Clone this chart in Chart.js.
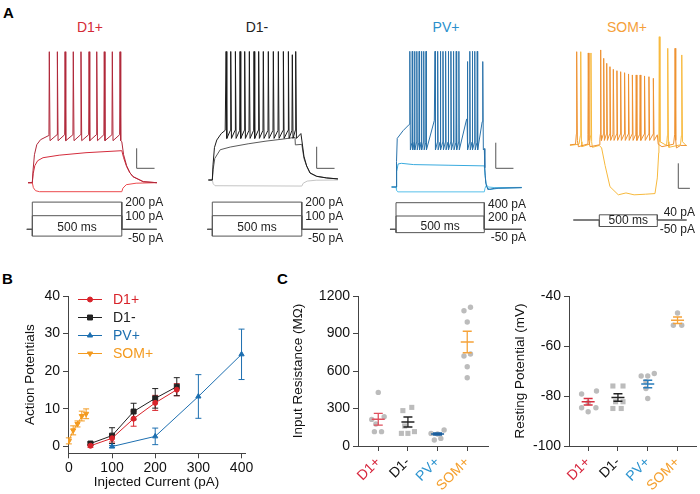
<!DOCTYPE html>
<html>
<head>
<meta charset="utf-8">
<script src="https://cdn.jsdelivr.net/npm/chart.js@4.4.1/dist/chart.umd.min.js"></script>
<style>
  body { margin: 0; background: #fff; }
  #fig { position: relative; width: 700px; height: 494px; overflow: hidden;
         font-family: "Liberation Sans", Arial, Helvetica, sans-serif; }
  #fig canvas { position: absolute; }
  .panel { position: absolute; font-weight: bold; font-size: 15px; line-height: 15px; color: #000; }
  .cell { position: absolute; font-size: 14px; line-height: 14px; transform: translateX(-50%); }
</style>
</head>
<body>
<div id="fig">
  <div class="panel" style="left:3px;top:5px">A</div>
  <div class="panel" style="left:2px;top:271px">B</div>
  <div class="panel" style="left:277px;top:271px">C</div>

  <div class="cell" style="left:90px;top:20px;color:#d42a36">D1+</div>
  <div class="cell" style="left:257px;top:20px;color:#222">D1-</div>
  <div class="cell" style="left:446px;top:20px;color:#2a8fcc">PV+</div>
  <div class="cell" style="left:627px;top:20px;color:#f5a03a">SOM+</div>

  <canvas id="trD1p" width="150" height="210" style="left:20px;top:35px"></canvas>
  <canvas id="trD1m" width="150" height="210" style="left:200px;top:35px"></canvas>
  <canvas id="trPV" width="155" height="210" style="left:380px;top:35px"></canvas>
  <canvas id="trSOM" width="140" height="210" style="left:560px;top:35px"></canvas>

  <canvas id="chartB" width="262" height="214" style="left:0px;top:280px"></canvas>
  <canvas id="chartRin" width="215" height="214" style="left:280px;top:280px"></canvas>
  <canvas id="chartVm" width="200" height="214" style="left:500px;top:280px"></canvas>
</div>

<script>
// ===========================
// Data : panel A traces (time ms, voltage mV)
// ===========================

// D1+ cell
const d1pHyper = [[-24,-80],[0,-80],[6,-85],[18,-88],[40,-89],[500,-89],[506,-85.5],[525,-82],[580,-80.5],[696,-80]];
const d1pSub = [[-24,-80],[0,-80],[5,-71],[14,-63],[30,-58],[60,-55],[150,-52.5],[300,-50],[500,-48],
  [510,-55],[527,-64],[545,-70],[563,-74],[620,-79],[696,-80]];
const d1pSupraBase = [[-24,-80],[0,-80],[4,-68],[12,-52],[25,-42],[46,-37],[90,-33],
  [500,-39],[510,-52],[527,-63],[545,-70],[563,-74],[620,-79],[696,-80]];
const d1pSpikes = [[95,51],[140,51],[183,51],[229,51],[272,51],[317,51],[360,51],[402,51],[447,51],[490,51]];
const d1pSteps = [200, 100, -50];

// D1- cell
const d1mHyper = [[-22,-80],[0,-80],[5,-83.5],[15,-85.3],[500,-85.6],[508,-83],[530,-81],[580,-80.2],[702,-80]];
const d1mSub = [[-22,-80],[0,-80],[5,-70],[14,-60],[44,-52],[100,-49.5],[200,-46.5],[300,-44],[400,-42],
  [462,-40.5],[464,-47.5],[500,-47],[512,-60],[527,-67],[546,-73.5],[583,-76.6],[639,-78.1],[702,-79]];
const d1mSupraBase = [[-22,-80],[0,-80],[4,-66],[12,-50],[25,-43],[50,-37],[72,-34],
  [495,-37],[500,-43],[512,-58],[527,-67],[546,-73.5],[583,-76.6],[639,-78.1],[702,-79]];
const d1mSpikes = [[77,39],[103,39],[129,39],[155,39],[181,39],[207,39],[233,39],[259,39],[285,39],
  [313,39],[341,39],[369,39],[397,39],[425,39],[447,36],[466,39]];
const d1mSteps = [200, 100, -50];

// PV+ cell
const pvHyper = [[-25,-75],[0,-75],[3,-77.5],[10,-78.8],[500,-78.8],[504,-76],[512,-73.5],[525,-75],[560,-75.5],[712,-75.3]];
const pvSub = [[-25,-75],[0,-75],[4,-63],[12,-57],[30,-56.5],[100,-57.5],[300,-58],[500,-58.5],
  [504,-66],[514,-75],[532,-77],[580,-76],[712,-75.5]];
const pvSupraBase = [[-25,-75],[0,-75],[3,-55],[7,-37],[40,-31],[76,-26],[217,-23],[400,-22],[488,-24],
  [500,-45],[503,-60],[508,-72],[520,-77],[560,-76],[712,-75.5]];
const pvSpikes = [[79,31],[92,31],[105,31],[118,31],[131,31],[144,31],[157,31],[170,31],
  [221,31],[236,31],[251,31],[266,31],[281,31],[296,31],[311,31],[326,31],[341,31],[356,31],
  [404,23],[418,31],[432,31],[446,31],[460,31],[492,23]];
const pvSteps = [400, 200, -50];

// SOM+ cell
const somHyperBase = [[-253,-54],[-175,-53],[-150,-55],[-85,-53],[-60,-55.5],[0,-54],[20,-56],[50,-70],[92,-87],
  [164,-93.5],[230,-92],[300,-93.5],[400,-93],[480,-92.5],[500,-80],[512,-60],[580,-54],[600,-55.5],[700,-53.5],[753,-54.5]];
const somHyperSpikes = [[-160,21],[-72,20],[517,33],[590,23.7],[711,18.4]];
const somDepBase = [[-253,-53.5],[-205,-53],[-180,-55],[-105,-53],[-80,-55],[0,-53.5],[5,-49],[15,-46],
  [500,-45.5],[508,-53],[540,-55],[640,-53],[665,-56],[700,-54],[753,-54]];
const somDepSpikes = [[-195,21],[-95,20],[12,22.4],[38,15.7],[64,11.7],[92,9],[121,6.9],[152,5.8],[184,5],
  [218,4.2],[252,3.2],[285,2.4],[318,2.4],[352,2.4],[390,1.6],[428,1],[466,-0.3],[653,23.7]];
const somSteps = [40, -50];

// ===========================
// Data : panel B (action potentials)
// ===========================

const bCurrentD1 = [50, 100, 150, 200, 250];
const bCurrentPV = [100, 200, 300, 400];
const bCurrentSOM = [0, 10, 20, 30, 40];
const bD1pMean = [0.2, 2.2, 7.4, 11.6, 15.1];
const bD1pSem = [0.4, 1.0, 2.0, 2.0, 1.6];
const bD1mMean = [0.8, 2.9, 9.3, 12.8, 15.9];
const bD1mSem = [0.4, 2.1, 2.2, 2.6, 2.4];
const bPVMean = [0, 2.7, 13.3, 24.5];
const bPVSem = [0.3, 2.2, 5.8, 6.7];
const bSOMMean = [1.5, 4.3, 6.0, 8.1, 8.7];
const bSOMSem = [0.8, 1.2, 0.8, 1.3, 1.3];
const bTicksX = [0, 100, 200, 300, 400];
const bTicksY = [0, 10, 20, 30, 40];

// ===========================
// Data : panel C (passive properties)
// ===========================

const cGroups = ["D1+", "D1-", "PV+", "SOM+"];

const rinValues = [
  [429, 213, 235, 176, 115, 115],
  [283, 309, 160, 101, 101, 115],
  [101, 128, 48, 61, 96],
  [1082, 1110, 992, 720, 736, 634, 546],
];
const rinJitter = [
  [0, -0.22, 0.2, -0.08, -0.13, 0.11],
  [-0.17, 0.13, -0.11, -0.22, 0, 0.22],
  [-0.22, 0.22, -0.11, 0.11, 0],
  [-0.11, 0.11, 0, -0.11, 0.11, 0, 0],
];
const rinMean = [214, 192, 96, 832];
const rinSem = [47, 40, 8, 86];
const rinTicks = [0, 300, 600, 900, 1200];

const vmValues = [
  [-79.2, -78, -82.7, -84.7, -86.3, -84.7],
  [-76, -76, -82.3, -82.3, -85, -85],
  [-72, -72, -71, -74.3, -77, -81],
  [-46.8, -51.7, -51.7],
];
const vmJitter = [
  [-0.22, 0.28, 0, -0.22, 0, 0.26],
  [-0.17, 0.17, -0.08, 0.17, -0.17, 0.11],
  [-0.22, 0, 0.22, -0.06, -0.06, 0],
  [0, -0.14, 0.14],
];
const vmMean = [-82.3, -80.6, -75.2, -49.7];
const vmSem = [1.3, 1.5, 1.5, 1.3];
const vmTicks = [-100, -80, -60, -40];

// ===========================
// Shared style
// ===========================

const FONT = '"Liberation Sans", Arial, Helvetica, sans-serif';
Chart.defaults.font.family = FONT;
Chart.defaults.color = "#111";
Chart.defaults.animation = false;
Chart.defaults.responsive = false;
Chart.defaults.devicePixelRatio = 1;

const groupColors = ["#d7263d", "#111111", "#2b93cf", "#f5a02e"];
const axisColor = "#444";

// ===========================
// Panel A helpers
// ===========================

const toXY = (arr) => arr.map((p) => ({ x: p[0], y: p[1] }));

// put spikes (time, peak) on top of the subthreshold points
function withSpikes(base, spikes, shape) {
  const pts = toXY(base);
  spikes.forEach(([t, peak]) => {
    let prev = null;
    for (const p of pts) {
      if (p.x < t && (!prev || p.x > prev.x)) prev = p;
    }
    const thr = Math.max(shape.thr, prev ? prev.y : shape.thr);
    pts.push({ x: t - shape.rise, y: thr }, { x: t, y: peak }, { x: t + shape.fall, y: shape.ahp });
  });
  return pts.sort((a, b) => a.x - b.x);
}

function stepTrace(level, span) {
  return [
    { x: span[0], y: 0 }, { x: 0, y: 0 }, { x: 0, y: level },
    { x: 500, y: level }, { x: 500, y: 0 }, { x: span[1], y: 0 },
  ];
}

const traceExtras = {
  id: "traceExtras",
  afterDatasetsDraw(chart, args, opts) {
    const { ctx } = chart;
    const { x, y, yI } = chart.scales;
    ctx.save();

    // scale bar
    const sb = opts.scaleBar;
    ctx.strokeStyle = "#555";
    ctx.lineWidth = 1;
    ctx.beginPath();
    ctx.moveTo(x.getPixelForValue(sb.t), y.getPixelForValue(sb.v + 20));
    ctx.lineTo(x.getPixelForValue(sb.t), y.getPixelForValue(sb.v));
    ctx.lineTo(x.getPixelForValue(sb.t + 100), y.getPixelForValue(sb.v));
    ctx.stroke();

    // step labels
    ctx.fillStyle = "#222";
    ctx.font = "12px " + FONT;
    ctx.textBaseline = "middle";
    ctx.textAlign = "right";
    const xr = x.getPixelForValue(500) + opts.labelRight;
    opts.steps.forEach((I) => {
      const dy = I > 0 ? opts.labelDy[0] : opts.labelDy[1];
      ctx.fillText(I + " pA", xr, yI.getPixelForValue(I) + dy);
    });

    const lows = opts.steps.slice().sort((a, b) => a - b);
    const yText = (yI.getPixelForValue(lows[0]) + yI.getPixelForValue(lows[1])) / 2 + opts.msDy;
    ctx.textAlign = "center";
    ctx.fillText("500 ms", x.getPixelForValue(250), yText);
    ctx.restore();
  },
};

function tracePanel(id, p, traces, steps, span, extras) {
  const canvas = document.getElementById(id);
  const top = 35;
  const height = canvas.height;
  const width = canvas.width;

  const datasets = traces.map((tr) => ({
    data: tr.points,
    borderColor: tr.color,
    borderWidth: 1,
    showLine: true,
    pointRadius: 0,
    tension: 0,
    yAxisID: "y",
  }));
  steps.forEach((I) => {
    datasets.push({
      data: stepTrace(I, span),
      borderColor: "#555",
      borderWidth: 1,
      showLine: true,
      pointRadius: 0,
      yAxisID: "yI",
    });
  });

  new Chart(canvas, {
    type: "scatter",
    data: { datasets },
    plugins: [traceExtras],
    options: {
      layout: { padding: 0 },
      plugins: {
        legend: { display: false },
        tooltip: { enabled: false },
        traceExtras: Object.assign({ steps }, extras),
      },
      scales: {
        x: {
          type: "linear", display: false,
          min: (p.left - p.x0) / p.kx,
          max: (p.left + width - p.x0) / p.kx,
        },
        y: {
          display: false,
          min: p.vRest - (top + height - p.yRest) / p.kv,
          max: p.vRest + (p.yRest - top) / p.kv,
        },
        yI: {
          display: false,
          min: -(top + height - p.yBase) / p.kI,
          max: (p.yBase - top) / p.kI,
        },
      },
    },
  });
}

// ===========================
// Panel A charts
// ===========================

tracePanel("trD1p",
  { left: 20, x0: 32.3, kx: 0.179, yRest: 182.7, vRest: -80, kv: 1.0, yBase: 229.3, kI: 0.136 },
  [
    { points: withSpikes(d1pSupraBase, d1pSpikes, { thr: -32, ahp: -38, rise: 2, fall: 4 }), color: "#b0283a" },
    { points: toXY(d1pSub), color: "#d42c3c" },
    { points: toXY(d1pHyper), color: "#ec4a4e" },
  ],
  d1pSteps, [-31, 695],
  { scaleBar: { t: 583, v: -65.6 }, labelRight: 41.5, labelDy: [1, 2.5], msDy: 1.5 });

tracePanel("trD1m",
  { left: 200, x0: 212.3, kx: 0.179, yRest: 180, vRest: -80, kv: 1.08, yBase: 229.3, kI: 0.136 },
  [
    { points: withSpikes(d1mSupraBase, d1mSpikes, { thr: -34, ahp: -41.5, rise: 2, fall: 4 }), color: "#1a1a1a" },
    { points: toXY(d1mSub), color: "#5a5a5a" },
    { points: toXY(d1mHyper), color: "#c4c4c4" },
  ],
  d1mSteps, [-28, 702],
  { scaleBar: { t: 583, v: -69.2 }, labelRight: 41.5, labelDy: [1, 2.5], msDy: 1.5 });

tracePanel("trPV",
  { left: 380, x0: 396, kx: 0.1766, yRest: 187, vRest: -75, kv: 1.28, yBase: 229.3, kI: 0.0665 },
  [
    { points: withSpikes(pvSupraBase, pvSpikes, { thr: -40, ahp: -46, rise: 1.5, fall: 2.5 }), color: "#2a72aa" },
    { points: toXY(pvSub), color: "#38aade" },
    { points: toXY(pvHyper), color: "#58c0ea" },
  ],
  pvSteps, [-34, 712],
  { scaleBar: { t: 565, v: -60.4 }, labelRight: 41.7, labelDy: [1.5, 5.5], msDy: 2.5 });

tracePanel("trSOM",
  { left: 560, x0: 599.3, kx: 0.116, yRest: 146.7, vRest: -55, kv: 1.25, yBase: 220, kI: 0.13 },
  [
    { points: withSpikes(somDepBase, somDepSpikes, { thr: -45, ahp: -50, rise: 3, fall: 6 }), color: "#ee9130" },
    { points: withSpikes(somHyperBase, somHyperSpikes, { thr: -46, ahp: -51, rise: 3, fall: 6 }), color: "#f7b93d" },
  ],
  somSteps, [-224, 753],
  { scaleBar: { t: 681, v: -88.3 }, labelRight: 37.7, labelDy: [-2, 3.5], msDy: 0.5 });

// ===========================
// Panel B
// ===========================

const errorBars = {
  id: "errorBars",
  beforeDatasetsDraw(chart) {
    const { ctx } = chart;
    const { x, y } = chart.scales;
    ctx.save();
    chart.data.datasets.forEach((ds) => {
      ctx.strokeStyle = ds.borderColor;
      ctx.lineWidth = 1;
      ds.data.forEach((pt, i) => {
        const px = x.getPixelForValue(pt.x);
        const yHi = y.getPixelForValue(pt.y + ds.sem[i]);
        const yLo = y.getPixelForValue(pt.y - ds.sem[i]);
        ctx.beginPath();
        ctx.moveTo(px, yHi); ctx.lineTo(px, yLo);
        ctx.moveTo(px - 3, yHi); ctx.lineTo(px + 3, yHi);
        ctx.moveTo(px - 3, yLo); ctx.lineTo(px + 3, yLo);
        ctx.stroke();
      });
    });
    ctx.restore();
  },
};

const rowLegend = {
  id: "rowLegend",
  afterDraw(chart) {
    const { ctx } = chart;
    ctx.save();
    ctx.font = "14px " + FONT;
    ctx.textBaseline = "middle";
    chart.data.datasets.forEach((ds, i) => {
      const yy = 19.5 + i * 18;
      ctx.strokeStyle = ds.borderColor;
      ctx.lineWidth = 1;
      ctx.beginPath();
      ctx.moveTo(78, yy); ctx.lineTo(102, yy);
      ctx.stroke();
      ctx.fillStyle = ds.borderColor;
      Chart.helpers.drawPoint(ctx, {
        pointStyle: ds.pointStyle, radius: ds.pointRadius,
        rotation: ds.pointRotation || 0, borderWidth: 1,
      }, 90, yy);
      ctx.fillText(ds.label, 113, yy + 0.5);
    });
    ctx.restore();
  },
};

function bSeries(label, xs, ys, sem, color, style, radius, rotation) {
  return {
    label,
    data: xs.map((v, i) => ({ x: v, y: ys[i] })),
    sem,
    showLine: true,
    borderColor: color,
    backgroundColor: color,
    borderWidth: 1,
    pointStyle: style,
    pointRadius: radius,
    pointRotation: rotation,
    pointBorderWidth: 1,
  };
}

const bColors = ["#d8232a", "#222222", "#1d6fb0", "#f39a1f"];

new Chart(document.getElementById("chartB"), {
  type: "scatter",
  data: {
    datasets: [
      bSeries("D1+", bCurrentD1, bD1pMean, bD1pSem, bColors[0], "circle", 2.5, 0),
      bSeries("D1-", bCurrentD1, bD1mMean, bD1mSem, bColors[1], "rect", 3.5, 0),
      bSeries("PV+", bCurrentPV, bPVMean, bPVSem, bColors[2], "triangle", 3, 0),
      bSeries("SOM+", bCurrentSOM, bSOMMean, bSOMSem, bColors[3], "triangle", 3, 180),
    ],
  },
  plugins: [errorBars, rowLegend],
  options: {
    layout: { padding: { top: 16, right: 17, left: 0, bottom: 0 } },
    plugins: { legend: { display: false }, tooltip: { enabled: false } },
    scales: {
      x: {
        type: "linear", min: -2, max: 408,
        afterBuildTicks: (s) => { s.ticks = bTicksX.map((v) => ({ value: v })); },
        afterFit: (s) => { s.height = 40.7; },
        ticks: { font: { size: 14 }, padding: 1, color: "#111" },
        grid: { drawOnChartArea: false, tickLength: 5, color: axisColor },
        border: { color: axisColor },
        title: { display: true, text: "Injected Current (pA)", font: { size: 13.5 }, padding: { bottom: 3.6 } },
      },
      y: {
        min: -1.8, max: 40,
        afterBuildTicks: (s) => { s.ticks = bTicksY.map((v) => ({ value: v })); },
        afterFit: (s) => { s.width = 68; },
        ticks: { font: { size: 14 }, padding: 3, color: "#111" },
        grid: { drawOnChartArea: false, tickLength: 5, color: axisColor },
        border: { color: axisColor },
        title: { display: true, text: "Action Potentials", font: { size: 13.5 }, padding: { top: 22 } },
      },
    },
  },
});

// ===========================
// Panel C
// ===========================

const meanSem = {
  id: "meanSem",
  afterDatasetsDraw(chart, args, opts) {
    const { ctx } = chart;
    const { x, y } = chart.scales;
    ctx.save();
    ctx.lineWidth = 1.3;
    opts.means.forEach((m, g) => {
      const px = x.getPixelForValue(g + 1);
      const yM = y.getPixelForValue(m);
      const yHi = y.getPixelForValue(m + opts.sems[g]);
      const yLo = y.getPixelForValue(m - opts.sems[g]);
      ctx.strokeStyle = opts.colors[g];
      ctx.beginPath();
      ctx.moveTo(px - 6.5, yM); ctx.lineTo(px + 6.5, yM);
      ctx.moveTo(px, yHi); ctx.lineTo(px, yLo);
      ctx.moveTo(px - 4.5, yHi); ctx.lineTo(px + 4.5, yHi);
      ctx.moveTo(px - 4.5, yLo); ctx.lineTo(px + 4.5, yLo);
      ctx.stroke();
    });
    ctx.restore();
  },
};

function cPanel(id, cfg) {
  const datasets = cfg.values.map((vals, g) => ({
    data: vals.map((v, i) => ({ x: g + 1 + cfg.jitter[g][i], y: v })),
    pointStyle: cfg.markers[g],
    pointRadius: cfg.markers[g] === "rect" ? 3.6 : 2.7,
    backgroundColor: "#bcbcbc",
    borderColor: "#bcbcbc",
    borderWidth: 0,
  }));

  new Chart(document.getElementById(id), {
    type: "scatter",
    data: { datasets },
    plugins: [meanSem],
    options: {
      layout: { padding: { top: 16, right: cfg.padRight, left: 0, bottom: 0 } },
      plugins: {
        legend: { display: false },
        tooltip: { enabled: false },
        meanSem: { means: cfg.means, sems: cfg.sems, colors: cfg.meanColors },
      },
      scales: {
        x: {
          type: "linear", min: cfg.xMin, max: cfg.xMax,
          afterBuildTicks: (s) => { s.ticks = [1, 2, 3, 4].map((v) => ({ value: v })); },
          afterFit: (s) => { s.height = 48; },
          ticks: {
            callback: (v) => cGroups[v - 1],
            color: (ctx) => groupColors[ctx.index],
            minRotation: 45, maxRotation: 45,
            font: { size: 14 }, padding: 3,
          },
          grid: { drawOnChartArea: false, tickLength: 5, color: axisColor },
          border: { color: axisColor },
        },
        y: {
          min: cfg.ticks[0], max: cfg.ticks[cfg.ticks.length - 1],
          afterBuildTicks: (s) => { s.ticks = cfg.ticks.map((v) => ({ value: v })); },
          afterFit: (s) => { s.width = cfg.axisWidth; },
          ticks: { font: { size: 14 }, padding: 3, color: "#111", callback: (v) => String(v) },
          grid: { drawOnChartArea: false, tickLength: 5, color: axisColor },
          border: { color: axisColor },
          title: { display: true, text: cfg.title, font: { size: 13.5 }, padding: { top: cfg.titlePad } },
        },
      },
    },
  });
}

cPanel("chartRin", {
  values: rinValues, jitter: rinJitter, means: rinMean, sems: rinSem,
  ticks: rinTicks, title: "Input Resistance (M\u03A9)",
  markers: ["circle", "rect", "circle", "circle"],
  meanColors: ["#e0505e", "#222222", "#1b5f9e", "#f5a33a"],
  xMin: 0.317, xMax: 4.7, axisWidth: 78, padRight: 7, titlePad: 10,
});

cPanel("chartVm", {
  values: vmValues, jitter: vmJitter, means: vmMean, sems: vmSem,
  ticks: vmTicks, title: "Resting Potential (mV)",
  markers: ["circle", "rect", "circle", "circle"],
  meanColors: ["#d83040", "#222222", "#2a7cba", "#f5a33a"],
  xMin: 0.357, xMax: 4.62, axisWidth: 69, padRight: 3, titlePad: 12,
});
</script>
</body>
</html>
